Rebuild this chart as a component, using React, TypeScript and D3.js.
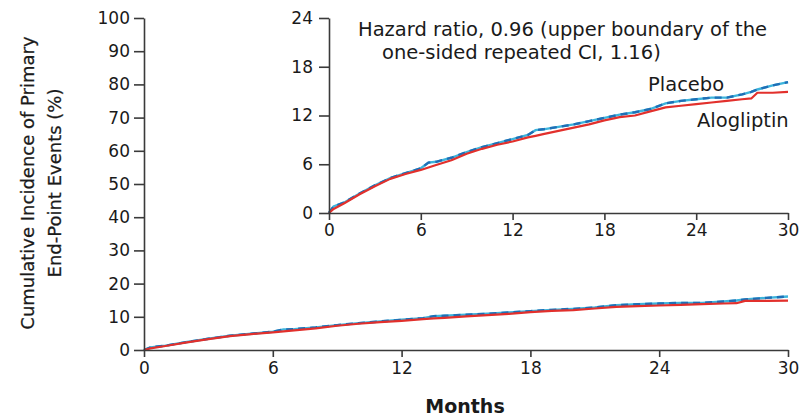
import { useEffect, useRef } from 'react';
import * as d3 from 'd3';

const size = { width: 804, height: 418 };

const color = {
  axis: '#3a3a3a',
  text: '#1a1a1a',
  alogliptin: '#e2302c',
  placeboLight: '#3cb4dc',
  placeboDark: '#1f6fb6',
};

// months, cumulative incidence (%)
const months = [0, 0.3, 1, 2, 3, 4, 5, 6, 6.5, 7, 8, 9, 10, 11, 12, 13, 13.5, 14, 15, 16, 17, 18, 19, 20, 21, 22, 23, 24, 25, 26, 27, 27.6, 28, 29, 30];
const alogliptin = [0, 0.5, 1.2, 2.3, 3.3, 4.2, 4.8, 5.3, 5.6, 5.9, 6.5, 7.3, 7.9, 8.4, 8.8, 9.3, 9.5, 9.7, 10.1, 10.5, 10.9, 11.4, 11.8, 12.0, 12.5, 13.0, 13.2, 13.4, 13.6, 13.8, 14.0, 14.1, 14.8, 14.8, 14.9];
const placebo = [0, 0.8, 1.3, 2.4, 3.4, 4.3, 4.9, 5.5, 6.2, 6.3, 6.8, 7.5, 8.1, 8.6, 9.1, 9.6, 10.2, 10.3, 10.6, 10.9, 11.3, 11.7, 12.1, 12.4, 12.8, 13.5, 13.8, 14.0, 14.2, 14.2, 14.6, 14.9, 15.2, 15.7, 16.1];

const mainYTicks = [0, 10, 20, 30, 40, 50, 60, 70, 80, 90, 100];
const insetYTicks = [0, 6, 12, 18, 24];
const xTicks = [0, 6, 12, 18, 24, 30];

const annotation = ['Hazard ratio, 0.96 (upper boundary of the', 'one-sided repeated CI, 1.16)'];
const yTitle = ['Cumulative Incidence of Primary', 'End-Point Events (%)'];

const FONT = '"DejaVu Sans", sans-serif';

const I = months.map((_, i) => i);

function drawAxes(
  g: d3.Selection<SVGGElement, unknown, null, undefined>,
  x: d3.ScaleLinear<number, number>,
  y: d3.ScaleLinear<number, number>,
  yTicks: number[],
  yPad: number,
  xPad: number,
) {
  const xAxis = d3.axisBottom(x).tickValues(xTicks).tickSize(7).tickPadding(xPad).tickSizeOuter(0);
  const yAxis = d3.axisLeft(y).tickValues(yTicks).tickSize(10).tickPadding(yPad).tickSizeOuter(0);

  g.append('g').attr('transform', `translate(0,${y(0)})`).call(xAxis);
  g.append('g').attr('transform', `translate(${x(0)},0)`).call(yAxis);

  g.selectAll('.domain, .tick line').attr('stroke', color.axis).attr('stroke-width', 1.6);
  g.selectAll('.tick text').attr('fill', color.text).attr('font-family', FONT).attr('font-size', 17);
}

function drawCurves(
  g: d3.Selection<SVGGElement, unknown, null, undefined>,
  x: d3.ScaleLinear<number, number>,
  y: d3.ScaleLinear<number, number>,
) {
  const plac = d3
    .line<number>()
    .curve(d3.curveLinear)
    .x(i => x(months[i]))
    .y(i => y(placebo[i]));
  const alog = d3
    .line<number>()
    .curve(d3.curveLinear)
    .x(i => x(months[i]))
    .y(i => y(alogliptin[i]));

  g.append('path').attr('d', plac(I)).attr('fill', 'none').attr('stroke', color.placeboLight).attr('stroke-width', 2.4);
  g.append('path')
    .attr('d', plac(I))
    .attr('fill', 'none')
    .attr('stroke', color.placeboDark)
    .attr('stroke-width', 2.4)
    .attr('stroke-dasharray', '7,5');
  g.append('path')
    .attr('d', alog(I))
    .attr('fill', 'none')
    .attr('stroke', color.alogliptin)
    .attr('stroke-width', 2.2)
    .attr('stroke-linejoin', 'round');
}

const App = () => {
  const ref = useRef<SVGSVGElement>(null);

  useEffect(() => {
    const svg = d3.select(ref.current);
    svg.selectAll('*').remove();

    // main chart
    const x = d3.scaleLinear().domain([0, 30]).range([144, 788]);
    const y = d3.scaleLinear().domain([0, 100]).range([350, 18]);
    const main = svg.append('g');
    drawCurves(main, x, y);
    drawAxes(main, x, y, mainYTicks, 4, 5);

    // inset
    const xi = d3.scaleLinear().domain([0, 30]).range([329, 788]);
    const yi = d3.scaleLinear().domain([0, 24]).range([213, 18]);
    const inset = svg.append('g');
    drawCurves(inset, xi, yi);
    drawAxes(inset, xi, yi, insetYTicks, 6, 4);

    // y axis title
    svg
      .append('g')
      .selectAll('text')
      .data(yTitle)
      .join('text')
      .attr('transform', (_, i) => `translate(${34 + i * 27},183) rotate(-90)`)
      .attr('text-anchor', 'middle')
      .attr('font-family', FONT)
      .attr('font-size', 18)
      .attr('fill', color.text)
      .attr('stroke', color.text)
      .attr('stroke-width', 0.25)
      .text(d => d);

    // x axis title
    svg
      .append('text')
      .attr('x', 465)
      .attr('y', 413)
      .attr('text-anchor', 'middle')
      .attr('font-family', FONT)
      .attr('font-size', 19)
      .attr('font-weight', 700)
      .attr('fill', color.text)
      .text('Months');

    // hazard ratio note
    svg
      .append('g')
      .selectAll('text')
      .data(annotation)
      .join('text')
      .attr('x', (_, i) => (i ? 382 : 358))
      .attr('y', (_, i) => 36 + i * 23)
      .attr('font-family', FONT)
      .attr('font-size', 19.5)
      .attr('fill', color.text)
      .text(d => d);

    // series labels
    svg
      .append('text')
      .attr('x', 648)
      .attr('y', 91)
      .attr('font-family', FONT)
      .attr('font-size', 19.5)
      .attr('fill', color.text)
      .text('Placebo');
    svg
      .append('text')
      .attr('x', 697)
      .attr('y', 127)
      .attr('font-family', FONT)
      .attr('font-size', 19.5)
      .attr('fill', color.text)
      .text('Alogliptin');
  }, []);

  return (
    <div style={{ position: 'absolute', left: 0, top: 0 }}>
      <svg ref={ref} width={size.width} height={size.height} style={{ display: 'block', background: '#fff' }} />
    </div>
  );
};

export default App;
